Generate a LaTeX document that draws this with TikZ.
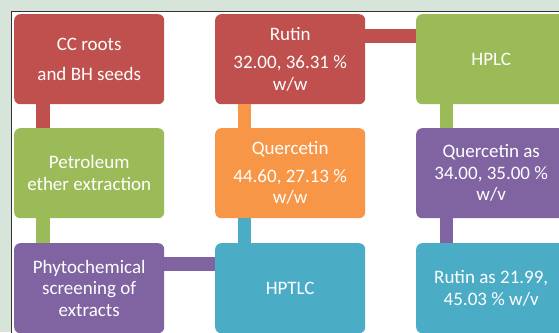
\documentclass[tikz,border=0pt]{standalone}
\usepackage{fontspec}
\setmainfont{Carlito}
\definecolor{bg}{RGB}{214,228,218}
\definecolor{cred}{RGB}{192,80,77}
\definecolor{cgreen}{RGB}{155,187,89}
\definecolor{corange}{RGB}{247,150,70}
\definecolor{cpurple}{RGB}{128,100,162}
\definecolor{cblue}{RGB}{75,172,198}
\begin{document}
\begin{tikzpicture}[x=1pt,y=-1pt,
  box/.style={rounded corners=6pt, minimum width=150pt, minimum height=90pt,
    inner sep=0pt, text=white, align=center,
    font=\fontsize{19}{21.5}\selectfont, anchor=north west}]
\useasboundingbox (0,0) rectangle (559,332);
\clip (0,0) rectangle (559,332);
\fill[bg] (0,0) rectangle (559,332);
\fill[white] (11,11) rectangle (580,345);
\draw[line width=1pt, black!80] (11,345) -- (11,11) -- (580,11);
% boxes
\node[box, fill=cred] (cc) at (14,14) {CC roots\\[8pt]and BH seeds};
\node[box, fill=cgreen] (pe) at (14,128) {Petroleum\\ether extraction};
\node[box, fill=cpurple] (ph) at (14,243) {Phytochemical\\screening of\\extracts};
\node[box, fill=cred] (ru) at (215,14) {Rutin\\[7pt]32.00, 36.31 \%\\w/w};
\node[box, fill=corange] (qu) at (215,128) {Quercetin\\[6pt]44.60, 27.13 \%\\w/w};
\node[box, fill=cblue] (hp) at (215,243) {HPTLC};
\node[box, fill=cgreen] (hl) at (416,14) {HPLC};
\node[box, fill=cpurple] (qa) at (416,128) {Quercetin as\\34.00, 35.00 \%\\w/v};
\node[box, fill=cblue] (ra) at (416,243) {Rutin as 21.99,\\45.03 \% w/v};
% connectors
\fill[cred] ([xshift=22pt]cc.south west) rectangle ([xshift=36pt]pe.north west);
\fill[cgreen] ([xshift=22pt]pe.south west) rectangle ([xshift=36pt]ph.north west);
\fill[corange] ([xshift=23pt]ru.south west) rectangle ([xshift=36pt]qu.north west);
\fill[cblue] ([xshift=23pt]qu.south west) rectangle ([xshift=36pt]hp.north west);
\fill[cgreen] ([xshift=24pt]hl.south west) rectangle ([xshift=37pt]qa.north west);
\fill[cpurple] ([xshift=24pt]qa.south west) rectangle ([xshift=37pt]ra.north west);
\fill[cpurple] ([yshift=-14pt]ph.north east) rectangle ([yshift=-28pt]hp.north west);
\fill[cred] ([yshift=-15pt]ru.north east) rectangle ([yshift=-29pt]hl.north west);
\end{tikzpicture}
\end{document}
